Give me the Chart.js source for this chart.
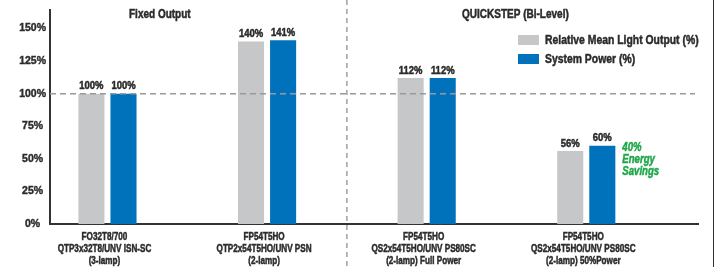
<!DOCTYPE html>
<html>
<head>
<meta charset="utf-8">
<script src="https://cdn.jsdelivr.net/npm/chart.js@4.4.1/dist/chart.umd.min.js"></script>
<style>
  html, body { margin: 0; padding: 0; background: #fff; }
  #wrap { width: 714px; height: 267px; position: relative; }
</style>
</head>
<body>
<div id="wrap"><canvas id="myChart"></canvas></div>
<script>
// du lieu doc tu hinh
const categories = [
    ['FO32T8/700', 'QTP3x32T8/UNV ISN-SC', '(3-lamp)'],
    ['FP54T5HO', 'QTP2x54T5HO/UNV PSN', '(2-lamp)'],
    ['FP54T5HO', 'QS2x54T5HO/UNV PS80SC', '(2-lamp) Full Power'],
    ['FP54T5HO', 'QS2x54T5HO/UNV PS80SC', '(2-lamp) 50%Power']
];
const lightOutput = [100, 140, 112, 56];
const systemPower = [100, 141, 112, 60];
const yTicks = [0, 25, 50, 75, 100, 125, 150];
const sectionTitles = ['Fixed Output', 'QUICKSTEP (Bi-Level)'];
const savingsNote = ['40%', 'Energy', 'Savings'];

const FONT = "'Liberation Sans', Arial, sans-serif";
const TEXT = '#2b2b2b';
const GRAY = '#c6c7c9';
const BLUE = '#0072bc';
const GREEN = '#1fa84a';

// chu hep, dam (gia lap Helvetica Condensed Bold)
function narrowText(ctx, text, x, y, sx) {
    ctx.save();
    ctx.translate(x, y);
    ctx.scale(sx, 1);
    ctx.strokeStyle = ctx.fillStyle;
    ctx.lineWidth = 0.5;
    ctx.fillText(text, 0, 0);
    ctx.strokeText(text, 0, 0);
    ctx.restore();
}

// ve cac chi tiet phu: duong 100%, vach chia, tieu de, chu thich, nhan gia tri
const decorPlugin = {
    id: 'decor',
    beforeDatasetsDraw(chart) {
        const ctx = chart.ctx;
        const divX = chart.scales.x.getPixelForValue(1.5);

        ctx.save();
        // vach chia doc
        ctx.strokeStyle = '#a0a0a0';
        ctx.lineWidth = 1.5;
        ctx.setLineDash([5, 4]);
        ctx.beginPath();
        ctx.moveTo(divX, 0);
        ctx.lineTo(divX, chart.height);
        ctx.stroke();
        ctx.restore();
    },
    afterDatasetsDraw(chart) {
        const ctx = chart.ctx;
        const area = chart.chartArea;
        const x = chart.scales.x;
        const y = chart.scales.y;
        const divX = x.getPixelForValue(1.5);

        ctx.save();
        // duong 100%
        const y100 = y.getPixelForValue(100);
        ctx.strokeStyle = '#9a9a9a';
        ctx.lineWidth = 1.5;
        ctx.setLineDash([6, 4]);
        ctx.beginPath();
        ctx.moveTo(area.left, y100);
        ctx.lineTo(area.right - 3, y100);
        ctx.stroke();
        ctx.setLineDash([]);

        // vien phai
        ctx.strokeStyle = '#333';
        ctx.lineWidth = 1;
        ctx.beginPath();
        ctx.moveTo(chart.width - 0.5, 0);
        ctx.lineTo(chart.width - 0.5, chart.height);
        ctx.stroke();

        // nhan truc hoanh (3 dong)
        ctx.fillStyle = TEXT;
        ctx.font = 'bold 11px ' + FONT;
        ctx.textAlign = 'center';
        ctx.textBaseline = 'middle';
        categories.forEach((lines, i) => {
            const cx = x.getPixelForValue(i);
            lines.forEach((t, k) => {
                narrowText(ctx, t, cx - 3, area.bottom + 13 + k * 12, 0.74);
            });
        });

        // tieu de hai nhom
        ctx.font = 'bold 12.5px ' + FONT;
        narrowText(ctx, sectionTitles[0], area.left + (divX - area.left) * 0.37, 15, 0.8);
        narrowText(ctx, sectionTitles[1], divX + (area.right - divX) * 0.48, 15, 0.8);

        // chu thich
        const legX = 518;
        chart.data.datasets.forEach((ds, i) => {
            const top = 35 + i * 19;
            ctx.fillStyle = ds.backgroundColor;
            ctx.fillRect(legX, top, 21, 10);
            ctx.fillStyle = TEXT;
            ctx.font = 'bold 13.5px ' + FONT;
            ctx.textAlign = 'left';
            narrowText(ctx, ds.label, legX + 27, top + 5, 0.77);
        });

        // nhan gia tri tren cot
        ctx.font = 'bold 10.5px ' + FONT;
        ctx.textAlign = 'center';
        ctx.textBaseline = 'bottom';
        ctx.fillStyle = TEXT;
        chart.data.datasets.forEach((ds, i) => {
            chart.getDatasetMeta(i).data.forEach((bar, j) => {
                narrowText(ctx, ds.data[j].y + '%', bar.x, bar.y - 2, 0.9);
            });
        });

        // ghi chu tiet kiem nang luong
        const last = chart.getDatasetMeta(1).data[3];
        ctx.fillStyle = GREEN;
        ctx.font = 'italic bold 12px ' + FONT;
        ctx.textAlign = 'left';
        ctx.textBaseline = 'middle';
        savingsNote.forEach((t, k) => {
            narrowText(ctx, t, last.x + last.width / 2 + 7, last.y + 2 + k * 12, 0.8);
        });
        ctx.restore();
    }
};

function createChart() {
    const ctx = document.getElementById('myChart').getContext('2d');
    return new Chart(ctx, {
        type: 'bar',
        data: {
            datasets: [
                {
                    label: 'Relative Mean Light Output (%)',
                    data: lightOutput.map((v, i) => ({ x: i, y: v })),
                    backgroundColor: GRAY,
                    categoryPercentage: 0.402,
                    barPercentage: 0.8125
                },
                {
                    label: 'System Power (%)',
                    data: systemPower.map((v, i) => ({ x: i, y: v })),
                    backgroundColor: BLUE,
                    categoryPercentage: 0.402,
                    barPercentage: 0.8125
                }
            ]
        },
        options: {
            responsive: true,
            maintainAspectRatio: false,
            animation: false,
            layout: { padding: { top: 8, right: 16, bottom: 0, left: 0 } },
            plugins: {
                legend: { display: false },
                tooltip: { enabled: false }
            },
            scales: {
                x: {
                    type: 'linear',
                    min: -0.36,
                    max: 3.7,
                    offset: false,
                    grid: { display: false, drawTicks: false, offset: false },
                    border: { display: true, color: '#333', width: 2 },
                    ticks: { display: false },
                    afterBuildTicks(scale) {
                        // mot vach cho moi nhom
                        scale.ticks = categories.map((c, i) => ({ value: i }));
                    },
                    afterFit(scale) { scale.height = 43; }
                },
                y: {
                    min: 0,
                    max: 164,
                    grid: { display: false, drawTicks: false },
                    border: { display: true, color: '#333', width: 2 },
                    ticks: {
                        color: TEXT,
                        font: { family: FONT, size: 10.5, weight: 'bold' },
                        textStrokeColor: TEXT,
                        textStrokeWidth: 0.4,
                        padding: 4,
                        crossAlign: 'center',
                        callback: v => v + '%'
                    },
                    afterBuildTicks(scale) {
                        scale.ticks = yTicks.map(v => ({ value: v }));
                    },
                    afterFit(scale) { scale.width = 50; }
                }
            }
        },
        plugins: [decorPlugin]
    });
}

createChart();
</script>
</body>
</html>
